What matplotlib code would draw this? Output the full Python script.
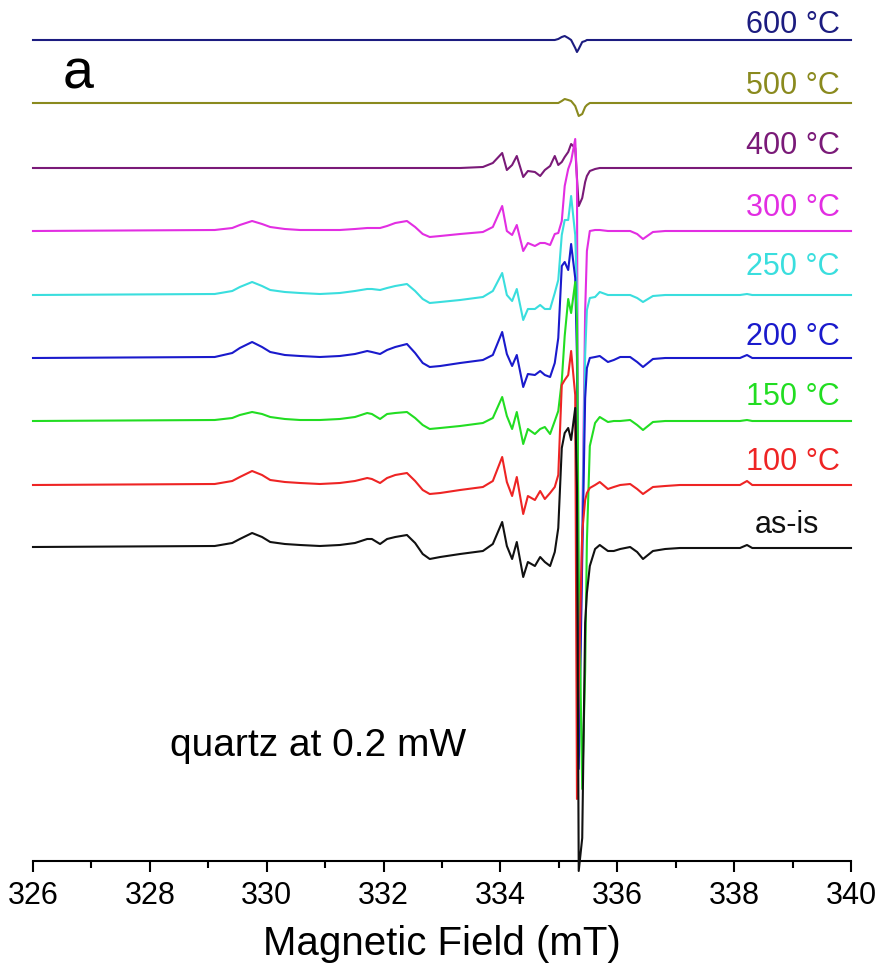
import matplotlib
matplotlib.use("Agg")
import matplotlib.pyplot as plt
from matplotlib.ticker import MultipleLocator

plt.rcParams['font.family'] = ['Liberation Sans', 'DejaVu Sans']

# magnetic field (mT) at the points
field = [326.00, 329.11, 329.41, 329.54, 329.75, 329.92, 330.06, 330.31, 330.57, 330.91,
         331.25, 331.51, 331.72, 331.80, 331.94, 332.06, 332.20, 332.40, 332.54, 332.67,
         332.79, 332.97, 333.31, 333.70, 333.87, 334.03, 334.11, 334.20, 334.28, 334.39,
         334.47, 334.59, 334.68, 334.76, 334.85, 334.93, 334.99, 335.05, 335.10, 335.16,
         335.21, 335.28, 335.31, 335.34, 335.40, 335.45, 335.48, 335.53, 335.62, 335.70,
         335.84, 335.94, 336.05, 336.22, 336.34, 336.44, 336.61, 336.82, 337.07, 338.10,
         338.22, 338.31, 338.44, 340.00]

# EPR signal (arb. units) for each annealing temperature
as_is = [1, 2, 5, 9, 15, 11, 6, 4, 3, 2, 3, 5, 9, 9, 4, 9, 11, 13, 5, -6,
         -11, -9, -6, -3, 4, 26, 2, -11, 6, -29, -14, -18, -9, -14, -18, -4, 20, 100, 115, 120,
         108, 140, 60, -323, -290, -75, -45, -18, -1, 3, -3, -3, -1, 1, -4, -11, -3, -1, 0, 0,
         3, 0, 0, 0]
t100 = [0, 1, 4, 8, 14, 10, 5, 3, 2, 1, 2, 4, 7, 6, 2, 7, 10, 12, 4, -5,
        -9, -8, -5, -2, 4, 28, 3, -11, 8, -29, -11, -15, -6, -14, -8, -2, 10, 100, 105, 110,
        134, 90, -314, -200, -47, -15, -8, -3, 0, 3, -4, -2, 0, 1, -4, -9, -2, -1, 0, 0,
        4, 0, 0, 0]
t150 = [0, 1, 3, 6, 9, 7, 4, 2, 1, 1, 2, 4, 8, 7, 2, 7, 8, 9, 3, -4,
        -8, -7, -5, -2, 3, 24, 5, -8, 9, -23, -8, -13, -8, -6, -13, 0, 10, 40, 85, 122,
        108, 139, 100, -150, -368, -250, -120, -25, -2, 4, -1, 0, 0, 1, -4, -9, -1, 0, 0, 0,
        1, 0, 0, 0]
t200 = [0, 1, 5, 10, 16, 11, 6, 3, 2, 1, 2, 4, 7, 6, 4, 8, 11, 14, 5, -5,
        -9, -8, -5, -2, 3, 26, 4, -8, 3, -29, -16, -17, -13, -17, -19, -5, 20, 92, 96, 88,
        114, 80, 0, -411, -200, -40, -10, 0, 1, 2, -4, -2, 1, 1, -4, -9, -1, 0, 0, 0,
        3, 0, 0, 0]
t250 = [0, 1, 4, 8, 13, 9, 5, 3, 2, 1, 2, 4, 6, 6, 5, 7, 9, 11, 4, -4,
        -8, -7, -5, -2, 4, 22, 0, -6, 6, -25, -14, -14, -10, -14, -14, 2, 15, 60, 75, 75,
        99, 60, 0, -444, -250, -60, -15, -3, -2, 3, 0, 0, 0, 0, -3, -7, -1, 0, 0, 0,
        1, 0, 0, 0]
t300 = [0, 1, 3, 6, 10, 7, 4, 2, 1, 1, 1, 2, 3, 3, 3, 5, 8, 10, 4, -3,
        -6, -5, -3, -1, 4, 25, 0, -4, 6, -20, -12, -15, -12, -12, -14, -3, -2, 10, 45, 62,
        70, 92, 50, -488, -300, -80, -20, 0, 1, 1, 0, 0, 0, 0, -3, -8, -1, 0, 0, 0,
        0, 0, 0, 0]
t400 = [0, 0, 0, 0, 0, 0, 0, 0, 0, 0, 0, 0, 0, 0, 0, 0, 0, 0, 0, 0,
        0, 0, 0, 1, 5, 15, -2, 3, 12, -9, -3, -4, -8, -2, 2, 12, 3, 6, 11, 16,
        24, 20, -10, -38, -30, -14, -8, -3, -1, 0, 0, 0, 0, 0, 0, 0, 0, 0, 0, 0,
        0, 0, 0, 0]
t500 = [0, 0, 0, 0, 0, 0, 0, 0, 0, 0, 0, 0, 0, 0, 0, 0, 0, 0, 0, 0,
        0, 0, 0, 0, 0, 0, 0, 0, 0, 0, 0, 0, 0, 0, 0, 0, 0, 2, 4, 3,
        2, -3, -8, -13, -11, -4, -2, 0, 0, 0, 0, 0, 0, 0, 0, 0, 0, 0, 0, 0,
        0, 0, 0, 0]
t600 = [0, 0, 0, 0, 0, 0, 0, 0, 0, 0, 0, 0, 0, 0, 0, 0, 0, 0, 0, 0,
        0, 0, 0, 0, 0, 0, 0, 0, 0, 0, 0, 0, 0, 0, 0, 0, 1, 3, 4, 2,
        0, -8, -12, -9, -2, -1, 0, 0, 0, 0, 0, 0, 0, 0, 0, 0, 0, 0, 0, 0,
        0, 0, 0, 0]

labels = ["as-is", "100 °C", "150 °C", "200 °C", "250 °C", "300 °C", "400 °C", "500 °C", "600 °C"]
spectra = [as_is, t100, t150, t200, t250, t300, t400, t500, t600]
offsets = [313, 376, 440, 503, 566, 630, 693, 758, 821]

colors = ["#111111", "#ee2424", "#22dd22", "#1a1acc", "#3adede",
          "#e22ee2", "#7a1a78", "#8a8a1e", "#1c1c80"]
label_dy = [24, 24, 25, 22, 29, 24, 23, 18, 16]
label_x = [339.45, 339.81, 339.81, 339.81, 339.81, 339.81, 339.81, 339.81, 339.81]

fig = plt.figure(figsize=(8.8, 9.78), dpi=100)
ax = fig.add_axes([33/880, 116/978, 818/880, 862/978])

# top spectrum first so the as-is trace ends up on top
for i in range(len(spectra) - 1, -1, -1):
    y = [v + offsets[i] for v in spectra[i]]
    ax.plot(field, y, color=colors[i], lw=1.5, clip_on=False, zorder=3 + (8 - i) * 0.01 + (i == 0))
    ax.text(label_x[i], offsets[i] + label_dy[i], labels[i], color=colors[i],
            fontsize=22, ha="right", va="center")

ax.text(326.50, 774, "a", fontsize=40, ha="left", va="baseline")
ax.text(328.35, 116, "quartz at 0.2 mW", fontsize=28, ha="left", va="center")

ax.set_xlim(326, 340)
ax.set_ylim(0, 862)
for s in ["left", "right", "top"]:
    ax.spines[s].set_visible(False)
ax.spines["bottom"].set_linewidth(1.5)
ax.set_yticks([])
ax.xaxis.set_major_locator(MultipleLocator(2))
ax.xaxis.set_minor_locator(MultipleLocator(1))
ax.tick_params(axis="x", which="major", length=8, width=1.5, labelsize=22, pad=6)
ax.tick_params(axis="x", which="minor", length=5, width=1.5)
ax.set_xlabel("Magnetic Field (mT)", fontsize=29, labelpad=10)

fig.savefig("out.png", dpi=100)
